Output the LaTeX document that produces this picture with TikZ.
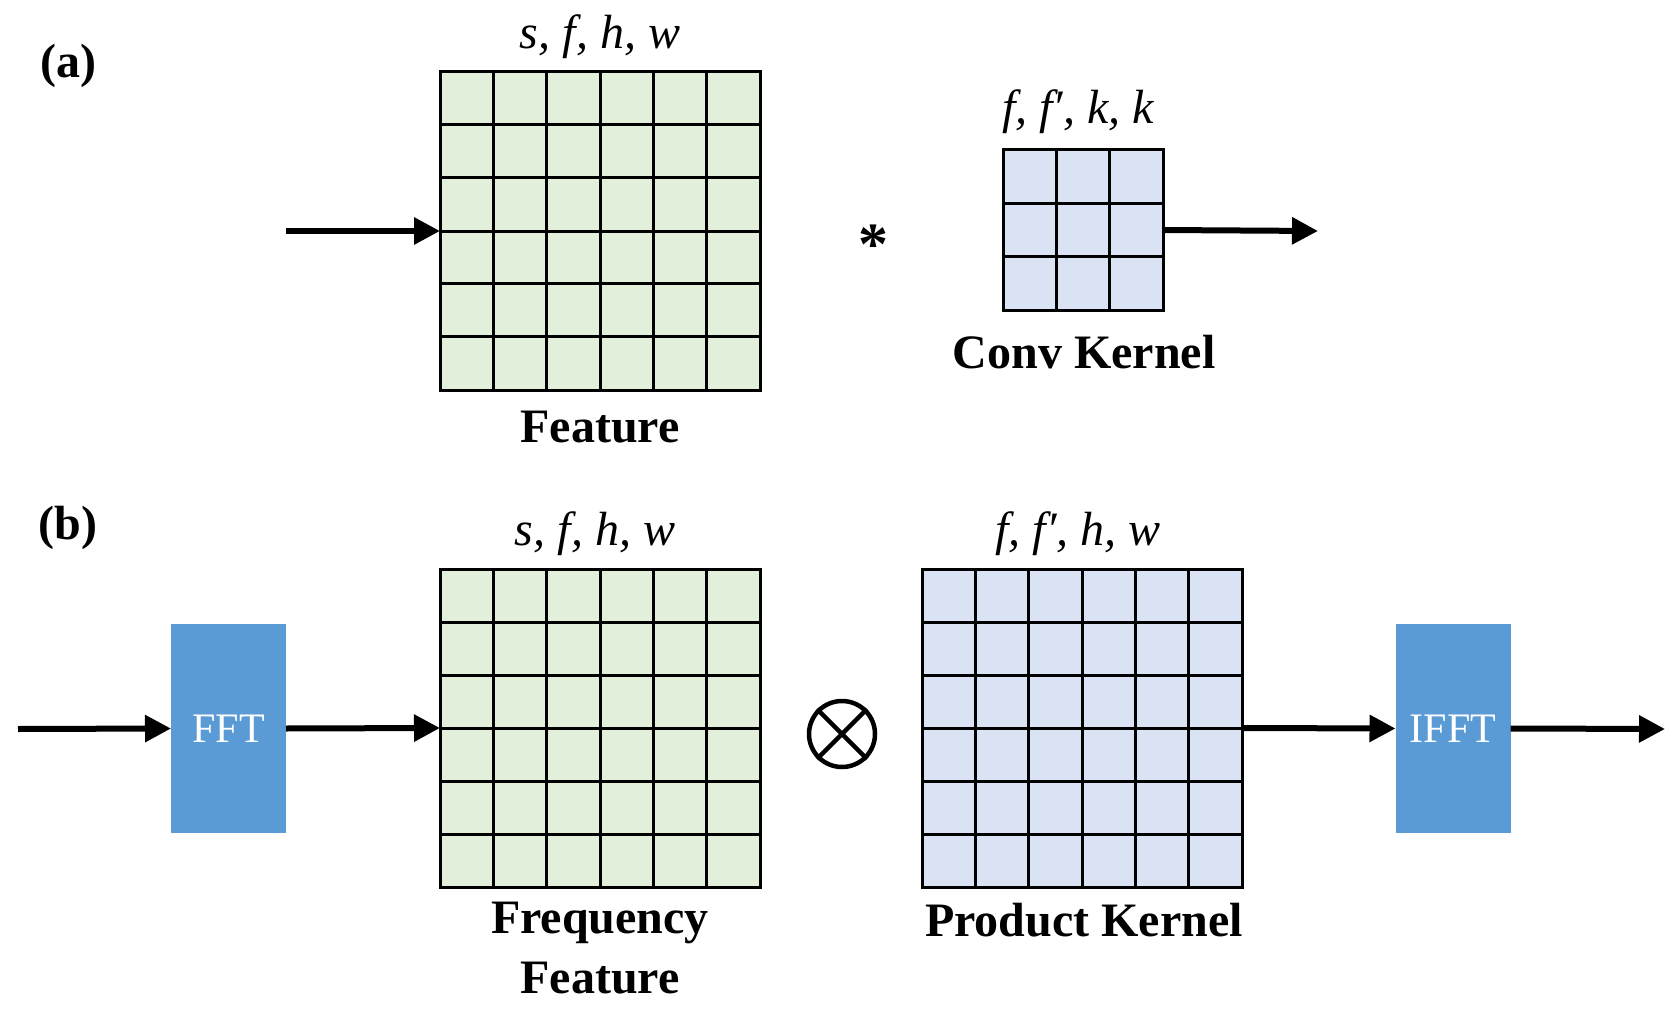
\documentclass[tikz,border=0pt]{standalone}
\usepackage{fontspec}
\setmainfont{Liberation Serif}
\usetikzlibrary{arrows.meta,calc}
\definecolor{gfill}{HTML}{E2EFDA}
\definecolor{bfill}{HTML}{DAE3F3}
\definecolor{boxblue}{HTML}{5B9BD5}
\begin{document}
\begin{tikzpicture}[x=1pt,y=-1pt,
  gridbox/.style={draw=black,line width=3pt,inner sep=0pt,outer sep=0pt},
  bigg/.style={gridbox,minimum width=320pt,minimum height=318pt},
  blk/.style={fill=boxblue,inner sep=0pt,outer sep=0pt,minimum width=115pt,minimum height=209pt,text=white,font=\fontsize{42}{44}\selectfont},
  conn/.style={line width=6pt,-{Triangle[length=26pt,width=26pt]}},
  lbl/.style={font=\fontsize{48}{52}\selectfont\bfseries,align=center,inner sep=0pt},
  mlbl/.style={font=\fontsize{48}{52}\selectfont\itshape,inner sep=0pt},
  tag/.style={font=\fontsize{48}{52}\selectfont\bfseries,inner sep=0pt}]
\useasboundingbox (0,0) rectangle (1674,1014);
% (a)
\node[tag] (ta) at (68,66) {(a)};
\node[bigg,fill=gfill] (fa) at (600,231) {};
\node[gridbox,fill=bfill,minimum width=160pt,minimum height=160pt] (ka) at (1083,230) {};
\foreach \i in {1,...,5}{
  \draw[line width=3pt] ($(fa.north west)!\i/6!(fa.north east)$) -- ($(fa.south west)!\i/6!(fa.south east)$);
  \draw[line width=3pt] ($(fa.north west)!\i/6!(fa.south west)$) -- ($(fa.north east)!\i/6!(fa.south east)$);
}
\foreach \i in {1,2}{
  \draw[line width=3pt] ($(ka.north west)!\i/3!(ka.north east)$) -- ($(ka.south west)!\i/3!(ka.south east)$);
  \draw[line width=3pt] ($(ka.north west)!\i/3!(ka.south west)$) -- ($(ka.north east)!\i/3!(ka.south east)$);
}
\node[mlbl] (la1) at (600,37) {s, f, h, w};
\node[mlbl] (la2) at (1078,112) {f, f′, k, k};
\node[lbl] (la3) at (600,427) {Feature};
\node[lbl] (la4) at (1084,352) {Conv Kernel};
\node[font=\fontsize{60}{60}\selectfont\bfseries,inner sep=0pt] (star) at (873,245) {*};
\coordinate (ina) at (286,231);
\coordinate (outa) at (1318,231);
\draw[conn] (ina) -- (fa.west);
\draw[conn] (ka.east) -- (outa);
% (b)
\node[tag] (tb) at (68,528) {(b)};
\node[blk] (fft) at (228.5,728.5) {FFT};
\node[blk] (ifft) at (1453,728.5) {IFFT};
\node[bigg,fill=gfill] (fb) at (600,728) {};
\node[bigg,fill=bfill] (kb) at (1082,728) {};
\foreach \n in {fb,kb}{
\foreach \i in {1,...,5}{
  \draw[line width=3pt] ($(\n.north west)!\i/6!(\n.north east)$) -- ($(\n.south west)!\i/6!(\n.south east)$);
  \draw[line width=3pt] ($(\n.north west)!\i/6!(\n.south west)$) -- ($(\n.north east)!\i/6!(\n.south east)$);
}}
\node[draw,line width=4.5pt,circle,minimum size=66pt,inner sep=0pt] (ot) at (842,734) {};
\draw[line width=4.5pt] (ot.45) -- (ot.225);
\draw[line width=4.5pt] (ot.135) -- (ot.315);
\node[mlbl] (lb1) at (595,534) {s, f, h, w};
\node[mlbl] (lb2) at (1078,534) {f, f′, h, w};
\node[lbl] (lb3) at (600,948) {Frequency\\[8pt]Feature};
\node[lbl] (lb4) at (1084,920) {Product Kernel};
\coordinate (inb) at (18,729);
\coordinate (outb) at (1665,729);
\draw[conn] (inb) -- (fft.west);
\draw[conn] (fft.east) -- (fb.west);
\draw[conn] (kb.east) -- (ifft.west);
\draw[conn] (ifft.east) -- (outb);
\end{tikzpicture}
\end{document}
